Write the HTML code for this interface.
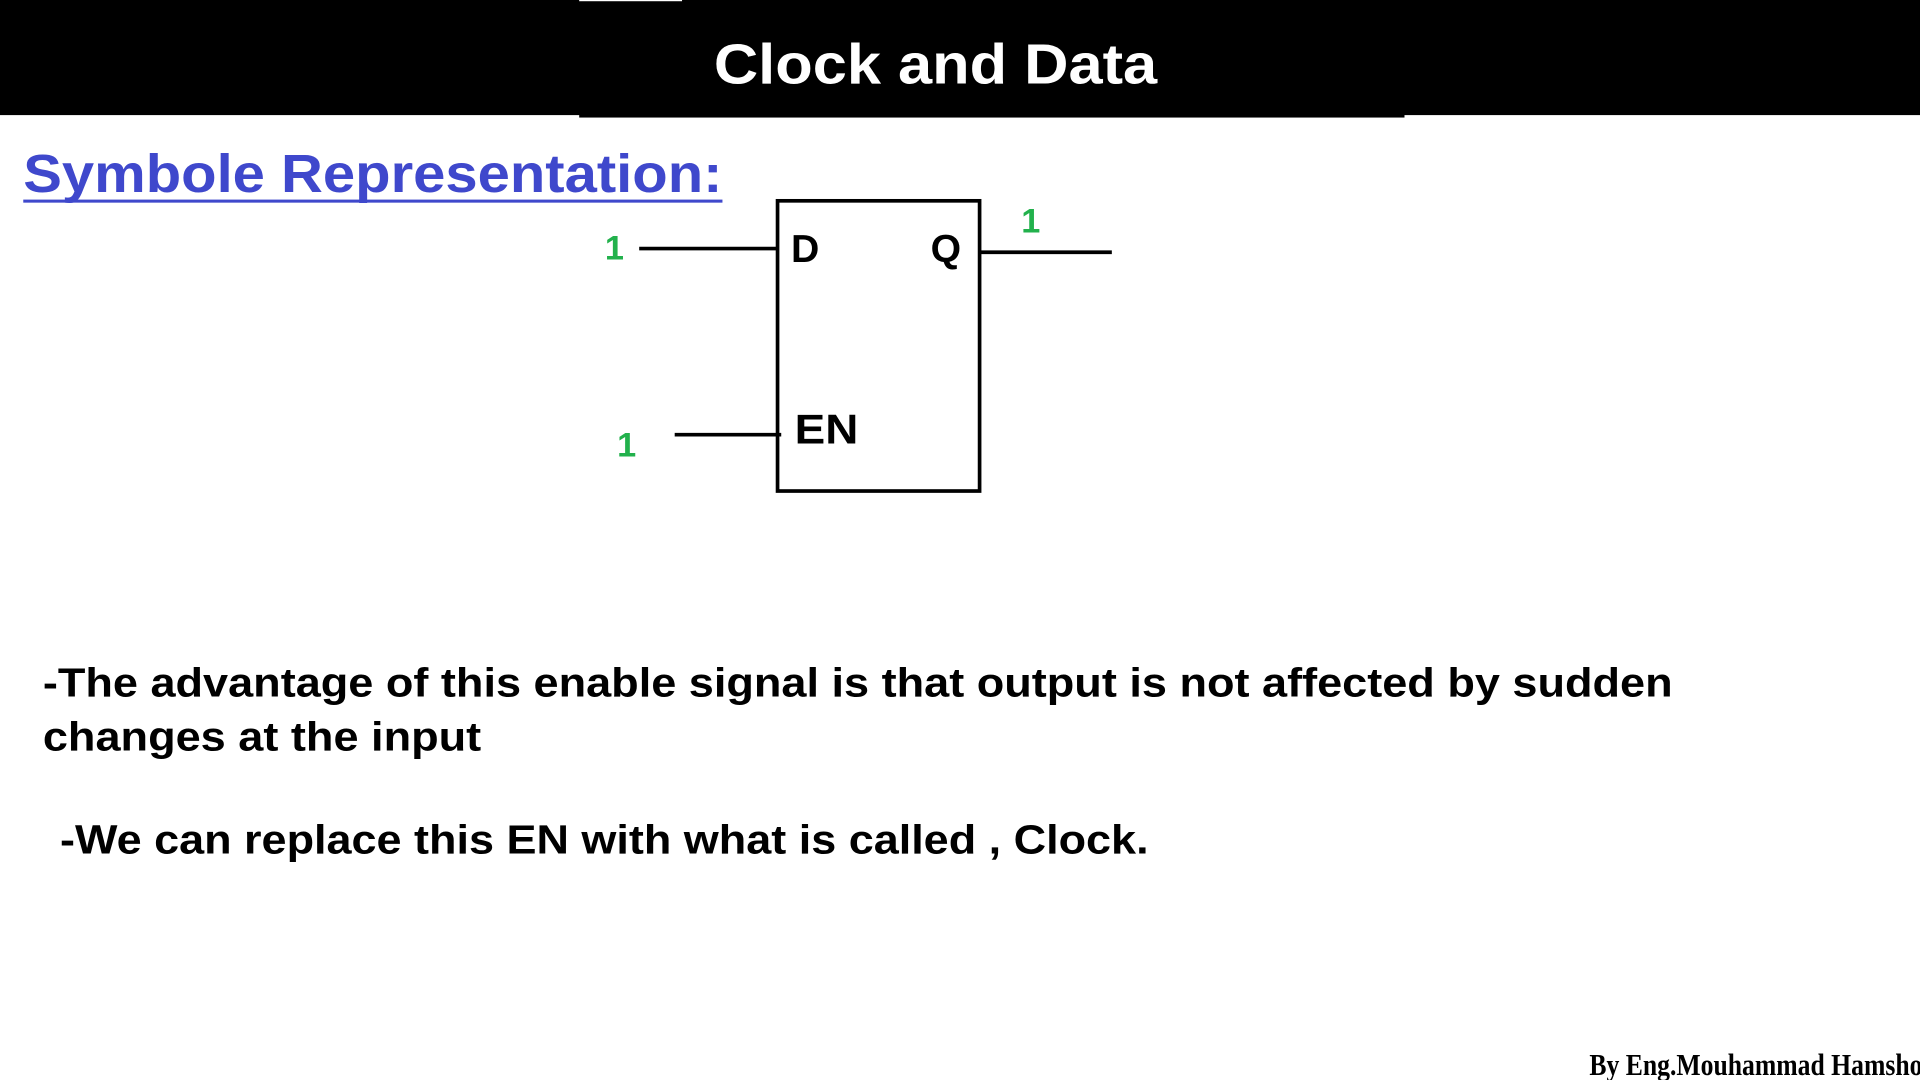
<!DOCTYPE html>
<html><head><meta charset="utf-8"><style>
html,body{margin:0;padding:0;background:#fff;width:1920px;height:1080px;overflow:hidden}
svg{display:block}
</style></head><body>
<svg width="1920" height="1080" viewBox="0 0 1568 882" preserveAspectRatio="none" xmlns="http://www.w3.org/2000/svg">
<rect x="0" y="0" width="1568" height="882" fill="#fff"/>
<rect x="0" y="0" width="1568" height="94" fill="#000"/>
<rect x="473" y="90" width="674" height="6" fill="#000"/>
<rect x="473" y="0" width="84" height="1" fill="#fff"/>
<text x="583" y="68" font-family="Liberation Sans, sans-serif" font-weight="bold" font-size="46" fill="#fff" textLength="362" lengthAdjust="spacingAndGlyphs">Clock and Data</text>
<text x="19" y="157" font-family="Liberation Sans, sans-serif" font-weight="bold" font-size="44" fill="#3f48cc" textLength="571" lengthAdjust="spacingAndGlyphs">Symbole Representation:</text>
<rect x="19" y="163" width="571" height="2.5" fill="#3f48cc"/>
<rect x="635" y="164" width="165" height="237" fill="none" stroke="#000" stroke-width="3"/>
<line x1="522" y1="203" x2="634" y2="203" stroke="#000" stroke-width="3"/>
<line x1="801" y1="206" x2="908" y2="206" stroke="#000" stroke-width="3"/>
<line x1="551" y1="355" x2="638" y2="355" stroke="#000" stroke-width="3"/>
<g font-family="Liberation Sans, sans-serif" font-weight="bold" fill="#000">
<text x="646" y="214" font-size="32">D</text>
<text x="760" y="214" font-size="32">Q</text>
<text x="649" y="362" font-size="34" textLength="52" lengthAdjust="spacingAndGlyphs">EN</text>
</g>
<g font-family="Liberation Sans, sans-serif" font-weight="bold" fill="#22b14c" font-size="28">
<text x="494" y="212">1</text>
<text x="834" y="190">1</text>
<text x="504" y="373">1</text>
</g>
<g font-family="Liberation Sans, sans-serif" font-weight="bold" fill="#000" font-size="33">
<text x="35" y="569" textLength="1331" lengthAdjust="spacingAndGlyphs">-The advantage of this enable signal is that output is not affected by sudden</text>
<text x="35" y="613" textLength="358" lengthAdjust="spacingAndGlyphs">changes at the input</text>
<text x="49" y="697" textLength="889" lengthAdjust="spacingAndGlyphs">-We can replace this EN with what is called , Clock.</text>
</g>
<text x="1298" y="878" font-family="Liberation Serif, serif" font-weight="bold" font-size="25" fill="#000" textLength="272" lengthAdjust="spacingAndGlyphs">By Eng.Mouhammad Hamsho</text>
</svg>
</body></html>
